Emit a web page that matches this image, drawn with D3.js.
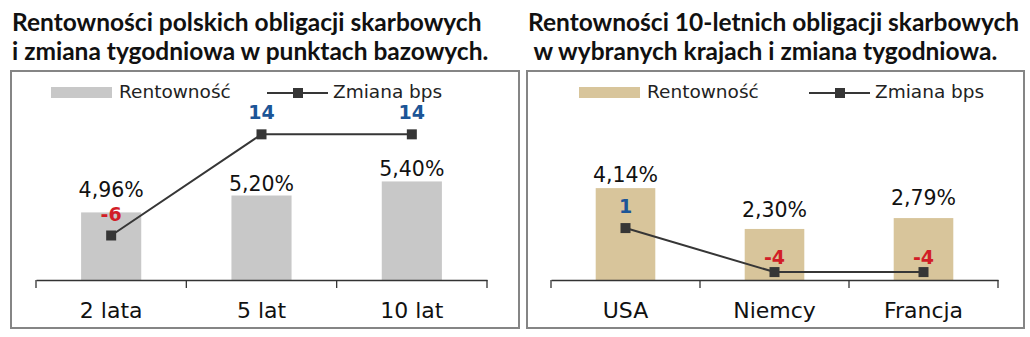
<!DOCTYPE html>
<html>
<head>
<meta charset="utf-8">
<script src="https://cdn.jsdelivr.net/npm/d3@7"></script>
<style>
  body { margin: 0; background: #fff; }
  svg text { font-family: "DejaVu Sans", sans-serif; }
  .title { font-family: Lato, sans-serif; font-weight: 700; font-size: 24.5px; fill: #111; }
</style>
</head>
<body>
<div id="chart"></div>
<script>
// left panel: polish bonds
const plCategories = ["2 lata", "5 lat", "10 lat"];
const plYield = [4.96, 5.20, 5.40];
const plChange = [-6, 14, 14];
const plTitle = ["Rentowności polskich obligacji skarbowych", "i zmiana tygodniowa w punktach bazowych."];

// right panel: 10y bonds abroad
const fxCategories = ["USA", "Niemcy", "Francja"];
const fxYield = [4.14, 2.30, 2.79];
const fxChange = [1, -4, -4];
const fxTitle = ["Rentowności 10-letnich obligacji skarbowych", " w wybranych krajach i zmiana tygodniowa."];

const legendLabels = ["Rentowność", "Zmiana bps"];

const width = 1030, height = 337;
const svg = d3.select("#chart").append("svg")
  .attr("width", width).attr("height", height);

const fmtPct = d => d.toFixed(2).replace(".", ",") + "%";
const RED = "#d21d27", BLUE = "#1c5597", LINE = "#363636";

function drawPanel(o) {
  const g = svg.append("g");

  // title
  g.append("text").attr("class", "title")
    .selectAll("tspan").data(o.title).join("tspan")
    .attr("x", o.titleX).attr("y", (d, i) => 31 + i * 29)
    .style("white-space", "pre")
    .text(d => d);

  // frame
  g.append("rect")
    .attr("x", o.frame[0]).attr("y", 71)
    .attr("width", o.frame[1] - o.frame[0]).attr("height", 257)
    .attr("fill", "none").attr("stroke", "#858585").attr("stroke-width", 2);

  const x = d3.scaleBand().domain(o.categories).range([o.axis[0], o.axis[1]]).padding(0);
  const y = d3.scaleLinear().domain(o.yDomain).range([280, 104]);
  const y2 = d3.scaleLinear().domain(o.y2Domain).range([280, 104]);

  // bars
  g.selectAll("rect.bar").data(o.yields).join("rect")
    .attr("class", "bar")
    .attr("x", (d, i) => x(o.categories[i]) + x.bandwidth() * 0.3)
    .attr("width", x.bandwidth() * 0.4)
    .attr("y", d => y(d))
    .attr("height", d => 280 - y(d))
    .attr("fill", o.barColor);

  // bar labels
  g.selectAll("text.bl").data(o.yields).join("text")
    .attr("class", "bl")
    .attr("x", (d, i) => x(o.categories[i]) + x.bandwidth() / 2)
    .attr("y", (d, i) => y(d) - o.barLabelGap[i])
    .attr("text-anchor", "middle")
    .attr("font-size", 20.5)
    .attr("fill", "#111")
    .text(fmtPct);

  // x axis
  const axis = g.append("g").attr("transform", "translate(0,280)")
    .call(d3.axisBottom(x).tickSize(0).tickPadding(22));
  axis.select(".domain").attr("stroke", "#333").attr("stroke-width", 1.3);
  axis.selectAll("text").attr("font-size", 22).attr("fill", "#111")
    .attr("font-family", "'DejaVu Sans', sans-serif");
  const edges = o.categories.map(c => x(c)).concat([o.axis[1]]);
  g.selectAll("line.tk").data(edges).join("line")
    .attr("x1", d => d).attr("x2", d => d)
    .attr("y1", 280).attr("y2", 288)
    .attr("stroke", "#333").attr("stroke-width", 1.3);

  // change line
  const cx = (d, i) => x(o.categories[i]) + x.bandwidth() / 2;
  g.append("path").datum(o.changes)
    .attr("d", d3.line().x(cx).y(d => y2(d)))
    .attr("fill", "none").attr("stroke", LINE).attr("stroke-width", 2);
  g.selectAll("rect.mk").data(o.changes).join("rect")
    .attr("class", "mk")
    .attr("x", (d, i) => cx(d, i) - 5).attr("y", d => y2(d) - 5)
    .attr("width", 10).attr("height", 10)
    .attr("fill", LINE);
  g.selectAll("text.cl").data(o.changes).join("text")
    .attr("class", "cl")
    .attr("x", cx)
    .attr("y", (d, i) => y2(d) - o.changeLabelGap[i])
    .attr("text-anchor", "middle")
    .attr("font-size", 19).attr("font-weight", 700)
    .attr("font-family", "'Liberation Sans', sans-serif")
    .attr("fill", d => d < 0 ? RED : BLUE)
    .text(d => d);

  // legend
  const lg = g.append("g");
  lg.append("rect").attr("x", o.legendX).attr("y", 87).attr("width", 61).attr("height", 11)
    .attr("fill", o.barColor);
  lg.append("text").attr("x", o.legendX + 68).attr("y", 98)
    .attr("font-size", 18.5).attr("fill", "#222").text(legendLabels[0]);
  const lx = o.legendX + o.lineLegendOffset;
  lg.append("line").attr("x1", lx).attr("x2", lx + 61).attr("y1", 93).attr("y2", 93)
    .attr("stroke", LINE).attr("stroke-width", 2);
  lg.append("rect").attr("x", lx + 26).attr("y", 88).attr("width", 10).attr("height", 10)
    .attr("fill", LINE);
  lg.append("text").attr("x", lx + 66).attr("y", 98)
    .attr("font-size", 18.5).attr("fill", "#222").text(legendLabels[1]);
}

drawPanel({
  title: plTitle, titleX: 12, frame: [11, 519],
  categories: plCategories, yields: plYield, changes: plChange,
  axis: [36, 487], yDomain: [4.0, 6.5], y2Domain: [-14.8, 20],
  barColor: "#c8c8c8",
  barLabelGap: [15, 5, 5], changeLabelGap: [14, 15, 15],
  legendX: 51, lineLegendOffset: 216
});

drawPanel({
  title: fxTitle, titleX: 528, frame: [527, 1024],
  categories: fxCategories, yields: fxYield, changes: fxChange,
  axis: [551, 998], yDomain: [0, 7.93], y2Domain: [-4.9, 15.1],
  barColor: "#d8c59b",
  barLabelGap: [6, 12, 13], changeLabelGap: [15, 8, 8],
  legendX: 579, lineLegendOffset: 230
});
</script>
</body>
</html>
